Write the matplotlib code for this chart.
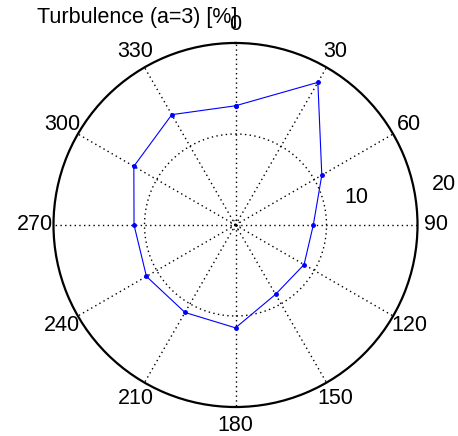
import numpy as np
import matplotlib
matplotlib.use("Agg")
import matplotlib.pyplot as plt

# direction (deg, compass) and turbulence values [%]
angles = [0, 30, 60, 90, 120, 150, 180, 210, 240, 270, 300, 330]
turb = [13.1, 18.1, 10.95, 8.55, 8.7, 8.8, 11.3, 11.1, 11.3, 11.15, 12.9, 14.0]
rticks = [10, 20]
title = "Turbulence (a=3) [%]"

plt.rcParams['font.family'] = ['Liberation Sans', 'DejaVu Sans']
fs = 15.5

fig = plt.figure(figsize=(4.58, 4.36), dpi=100)
ax = fig.add_axes([0.1168, 0.0665, 0.7948, 0.8349], projection='polar')
ax.set_theta_zero_location('N')
ax.set_theta_direction(-1)
ax.set_ylim(0, 20)
ax.grid(False)
ax.set_xticks([])
ax.set_yticks([])
ax.spines['polar'].set_linewidth(1.6)

dot = (0, (1, 2.4))
# spokes
for a in angles:
    ax.plot([np.deg2rad(a)] * 2, [0, 20], color='black', lw=1.0, ls=dot)
# inner rings
t = np.linspace(0, 2 * np.pi, 300)
ax.plot(t, np.full_like(t, rticks[0]), color='black', lw=1.0, ls=dot)
ax.plot(t, np.full_like(t, 0.5), color='black', lw=0.8, ls=dot)

# data, closed loop
th = np.deg2rad(angles + angles[:1])
r = turb + turb[:1]
ax.plot(th, r, color='blue', lw=0.8, marker='.', ms=5)

for a in angles:
    ax.text(np.deg2rad(a), 22.0, str(a), ha='center', va='center', fontsize=fs)
ax.text(np.deg2rad(77), 13.6, str(rticks[0]), ha='center', va='center', fontsize=fs)
ax.text(np.deg2rad(79), 23.3, str(rticks[1]), ha='center', va='center', fontsize=fs)

fig.text(37 / 458, 1 - 18 / 436, title, ha='left', va='center', fontsize=fs)

fig.savefig('out.png', dpi=100)
